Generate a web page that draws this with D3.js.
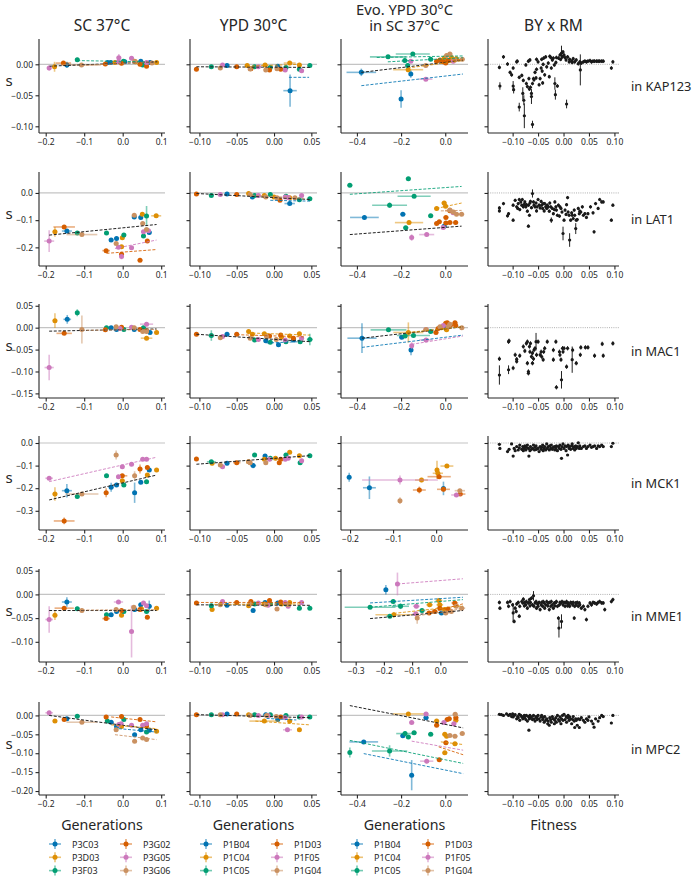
<!DOCTYPE html>
<html><head><meta charset="utf-8">
<script src="https://cdn.jsdelivr.net/npm/d3@7"></script>
<style>
body{margin:0;background:#fff}
svg{display:block}
text{font-family:"Noto Sans",sans-serif;fill:#262626}
</style>
</head><body><svg id="c" width="696" height="876"></svg>
<script>
const colors = ['#0173b2','#de8f05','#029e73','#d55e00','#cc78bc','#ca9161'];
const colTitles = [["SC 37°C"],["YPD 30°C"],["Evo. YPD 30°C","in SC 37°C"],["BY x RM"]];
const rowLabels = ["in KAP123","in LAT1","in MAC1","in MCK1","in MME1","in MPC2"];
const xLabels = ["Generations","Generations","Generations","Fitness"];
const legendSC = ["P3C03","P3D03","P3F03","P3G02","P3G05","P3G06"];
const legendP1 = ["P1B04","P1C04","P1C05","P1D03","P1F05","P1G04"];

// axis domains and ticks
const xDomSC = [-0.2174, 0.1099], xTicksSC = [-0.2,-0.1,0.0,0.1];
const xDomYPD = [-0.1126, 0.0576], xTicksYPD = [-0.10,-0.05,0.00,0.05];
const xDomBY = [-0.1484, 0.109], xTicksBY = [-0.10,-0.05,0.00,0.05,0.10];
const xDomEvo = [[-0.472,0.103],[-0.472,0.103],[-0.472,0.103],[-0.221,0.074],[-0.352,0.098],[-0.472,0.103]];
const xTicksEvo = [[-0.4,-0.2,0.0],[-0.4,-0.2,0.0],[-0.4,-0.2,0.0],[-0.2,-0.1,0.0],[-0.3,-0.2,-0.1,0.0],[-0.4,-0.2,0.0]];
const yDom = [[-0.1108,0.0408],[-0.2685,0.077],[-0.1605,0.054],[-0.385,0.031],[-0.1426,0.0536],[-0.2105,0.0355]];
const yTicks = [[-0.10,-0.05,0.00],[-0.2,-0.1,0.0],[-0.15,-0.10,-0.05,0.00,0.05],[-0.3,-0.2,-0.1,0.0],[-0.10,-0.05,0.00,0.05],[-0.20,-0.15,-0.10,-0.05,0.00]];
const yFmt = [".2f",".1f",".2f",".1f",".2f",".2f"];

// ---- KAP123 ---- [series, x, y, xerr, yerr]
const kapSC = [[4,-0.191,-0.006,0.006,0.004],[1,-0.177,-0.004,0.005,0.008],[3,-0.154,0.002,0.02,0.003],[0,-0.145,-0.001,0.01,0.005],[2,-0.118,0.0075],[5,-0.107,-0.001,0.05,0.003],[3,-0.045,0.0005],[0,-0.039,0.003],[0,-0.031,0.003],[1,-0.02,0.003],[4,-0.01,0.0107,0.006,0.006],[4,-0.011,0.004],[3,-0.003,0.0015],[2,0.002,0.005],[0,0.0055,0.004],[4,0.023,0.0097],[5,0.031,0.005,0.006,0.003],[1,0.033,0.004],[3,0.045,0.0],[0,0.047,0.005],[2,0.052,-0.001],[3,0.062,-0.003],[4,0.062,0.003,0.006,0.003],[1,0.058,0.001],[0,0.071,0.003],[5,0.076,0.002],[1,0.088,0.003,0.005,0.003]];
const kapSCfit = [['k',-0.19,0.09,-0.003,0.004],[5,-0.107,0.076,-0.002,0.004],[2,-0.118,0.062,0.006,0.004]];
const kapYPD = [[3,-0.104,-0.008],[2,-0.084,-0.004],[4,-0.069,-0.001],[5,-0.072,-0.006],[0,-0.063,-0.002],[3,-0.050,-0.004],[1,-0.036,-0.002],[5,-0.032,-0.0075],[3,-0.031,-0.007],[2,-0.026,-0.004],[4,-0.021,-0.004],[1,-0.012,-0.001],[5,-0.011,-0.009],[3,-0.006,-0.009],[2,-0.005,-0.005],[0,0.005,-0.003],[5,0.004,-0.007],[3,0.009,-0.008],[4,0.015,-0.009],[2,0.016,-0.005],[1,0.021,0.002,0.008,0.003],[1,0.034,-0.001],[4,0.037,-0.0105],[2,0.034,-0.008],[2,0.048,-0.002],[0,0.0215,-0.0425,0.009,0.026]];
const kapYPDfit = [['k',-0.104,0.048,-0.004,-0.005],[0,0.02,0.047,-0.021,-0.021],[1,-0.036,0.034,-0.003,0.0]];
const kapEvo = [[0,-0.38,-0.013,0.067,0.006],[2,-0.259,0.012,0.082,0.003],[2,-0.147,0.0166,0.077,0.003],[2,-0.183,0.006],[2,-0.066,0.008],[2,-0.17,-0.002,0.01,0.004],[4,-0.156,0.005],[1,-0.168,-0.0087,0.068,0.004],[0,-0.156,-0.0157,0.006,0.006],[0,-0.2,-0.056,0.006,0.014],[4,-0.088,-0.024,0.03,0.003],[5,-0.088,-0.002],[3,-0.039,0.005],[3,-0.024,0.007],[5,0.006,0.014],[1,-0.004,0.010],[3,0.002,0.002],[3,0.013,0.006],[5,0.021,0.0165],[1,0.028,0.011],[4,0.036,0.005],[5,0.044,0.007],[5,0.077,0.008],[3,-0.01,0.004],[1,0.05,0.009]];
const kapEvoFit = [['k',-0.38,0.08,-0.013,0.0065],[0,-0.38,0.08,-0.0345,-0.0157],[2,-0.31,0.08,0.011,0.0135],[2,-0.26,0.08,0.004,0.0105],[3,-0.05,0.08,0.004,0.008],[1,-0.17,0.08,-0.006,0.006]];
// [x, y, yerr]
const kapBY = [[-0.126,-0.005],[-0.118,0.012],[-0.125,-0.035,0.006],[-0.110,0.0005],[-0.105,-0.013],[-0.102,-0.017],[-0.099,-0.035,0.008],[-0.098,-0.041,0.006],[-0.099,-0.006],[-0.092,0.004],[-0.091,0.005],[-0.087,-0.021],[-0.087,-0.069,0.007],[-0.082,-0.018],[-0.079,-0.026],[-0.080,-0.047,0.01],[-0.078,-0.058,0.008],[-0.077,-0.083,0.02],[-0.074,-0.001],[-0.073,-0.031],[-0.071,-0.036],[-0.069,0.005],[-0.068,-0.023],[-0.067,-0.040],[-0.066,0.007],[-0.065,-0.037],[-0.063,-0.047],[-0.063,-0.052,0.012],[-0.061,-0.097,0.006],[-0.061,-0.031],[-0.059,-0.023],[-0.058,-0.025],[-0.056,-0.013],[-0.054,-0.022],[-0.053,0.008],[-0.053,-0.008],[-0.050,0.004],[-0.048,-0.033],[-0.046,-0.023],[-0.044,-0.006],[-0.043,0.008],[-0.042,-0.011],[-0.041,-0.030],[-0.040,0],[-0.039,0.010],[-0.037,-0.017],[-0.035,0.012],[-0.033,-0.004],[-0.030,0.002],[-0.028,-0.020],[-0.027,0.013],[-0.025,0.011],[-0.024,-0.006],[-0.022,0.007],[-0.020,0.010],[-0.018,-0.001],[-0.017,-0.031,0.01],[-0.016,-0.049,0.008],[-0.015,0.003],[-0.014,0.011],[-0.012,-0.035],[-0.010,0.010],[-0.007,0.015],[-0.006,0.008],[-0.004,0.018,0.012],[-0.002,0.012],[-0.001,0.020],[0.001,0.015],[0.003,0.011],[0.005,0.007],[0.006,-0.064,0.007],[0.008,0.012],[0.011,0.004],[0.012,0.008],[0.016,0.005],[0.017,0.003],[0.019,0.009],[0.022,0.004],[0.025,0.007],[0.029,0.001],[0.032,0.004],[0.033,-0.009,0.025],[0.035,0.002],[0.039,0.004],[0.042,0.005],[0.045,0.004],[0.048,0.005],[0.052,0.006],[0.055,0.004],[0.058,0.005],[0.061,0.005],[0.065,0.005],[0.068,0.005],[0.071,0.005],[0.075,0.005],[0.078,0.005],[0.094,-0.006],[0.097,0.004]];

// ---- LAT1 ----
const latSC = [[4,-0.191,-0.177,0.013,0.04],[1,-0.176,-0.143,0.006,0.018],[3,-0.152,-0.125,0.028,0.006],[0,-0.145,-0.140,0.013,0.006],[2,-0.118,-0.147],[5,-0.106,-0.153,0.04,0.006],[2,-0.042,-0.147],[0,-0.030,-0.173],[0,-0.016,-0.167],[5,-0.017,-0.186],[4,-0.011,-0.200],[1,-0.001,-0.165],[2,0.003,-0.155],[1,-0.003,-0.198],[3,-0.043,-0.212,0.01,0.006],[3,-0.003,-0.225],[4,-0.003,-0.234,0.006,0.01],[4,0.023,-0.201],[3,0.045,-0.247],[0,0.030,-0.088],[5,0.030,-0.082],[0,0.047,-0.090],[1,0.051,-0.078],[2,0.062,-0.085,0.006,0.037],[1,0.087,-0.084,0.013,0.006],[5,0.052,-0.112],[5,0.062,-0.134],[4,0.054,-0.143],[2,0.054,-0.158],[4,0.067,-0.139],[0,0.069,-0.145],[3,0.064,-0.177]];
const latSCfit = [['k',-0.191,0.088,-0.155,-0.116],[4,-0.02,0.088,-0.204,-0.173],[3,-0.042,0.088,-0.222,-0.208]];
const latYPD = [[3,-0.104,-0.004],[2,-0.084,-0.009],[4,-0.072,-0.006],[0,-0.063,-0.004],[3,-0.050,-0.006],[1,-0.034,-0.002],[5,-0.032,-0.006],[0,-0.029,-0.015],[2,-0.026,-0.009],[4,-0.021,-0.009],[1,-0.013,-0.009],[5,-0.011,-0.015],[2,-0.005,-0.006],[1,0.0,-0.015],[3,0.008,-0.027],[5,0.004,-0.018],[4,0.015,-0.015],[2,0.016,-0.012],[0,0.021,-0.039,0.007,0.004],[1,0.021,-0.018],[4,0.019,-0.017],[5,0.028,-0.018],[4,0.037,-0.009],[2,0.034,-0.025],[2,0.048,-0.021]];
const latYPDfit = [['k',-0.104,0.048,-0.002,-0.024],[0,-0.005,0.048,-0.027,-0.03],[5,-0.03,0.04,-0.008,-0.02]];
const latEvo = [[2,-0.432,0.028],[2,-0.167,0.0525],[2,-0.141,-0.012,0.075,0.006],[2,-0.252,-0.045,0.079,0.01],[0,-0.366,-0.090,0.065,0.006],[0,-0.192,-0.078],[2,-0.066,-0.084],[2,-0.179,-0.128],[1,-0.164,-0.109,0.064,0.008],[4,-0.152,-0.164,0.006,0.012],[4,-0.084,-0.153,0.034,0.006],[1,-0.039,-0.057],[1,-0.005,-0.037],[1,0.0015,-0.049],[3,0.021,-0.065,0.022,0.006],[5,0.021,-0.063],[5,0.036,-0.070],[4,0.036,-0.073],[5,0.074,-0.078],[5,0.051,-0.078],[3,0.003,-0.090],[3,-0.039,-0.112],[3,-0.027,-0.106],[3,0.003,-0.110],[3,0.021,-0.109],[3,0.047,-0.109],[0,-0.005,-0.122],[4,-0.009,-0.127]];
const latEvoFit = [[2,-0.432,0.074,-0.005,0.024],['k',-0.432,0.074,-0.153,-0.122],[1,-0.04,0.074,-0.057,-0.037],[5,-0.02,0.074,-0.066,-0.064]];
const latBY = [[-0.126,-0.055],[-0.126,-0.066],[-0.118,-0.039],[-0.110,-0.084],[-0.108,-0.076],[-0.099,-0.100],[-0.099,-0.045],[-0.095,-0.027],[-0.092,-0.051],[-0.090,-0.057],[-0.089,-0.039],[-0.087,-0.024],[-0.086,-0.061],[-0.084,-0.033],[-0.082,-0.045],[-0.081,-0.024],[-0.079,-0.051],[-0.077,-0.042],[-0.076,-0.033],[-0.074,-0.051],[-0.073,-0.043],[-0.071,-0.067],[-0.069,-0.122],[-0.069,-0.045],[-0.067,-0.082],[-0.066,-0.037],[-0.065,-0.031],[-0.063,-0.054],[-0.061,-0.002,0.015],[-0.059,-0.033],[-0.058,-0.045],[-0.056,-0.051],[-0.054,-0.037],[-0.053,-0.066],[-0.052,-0.051],[-0.050,-0.024],[-0.048,-0.045],[-0.046,-0.055],[-0.044,-0.031],[-0.043,-0.045],[-0.041,-0.057],[-0.040,-0.039],[-0.038,-0.066],[-0.037,-0.039],[-0.035,-0.051],[-0.033,-0.057],[-0.032,-0.045],[-0.030,-0.051],[-0.028,-0.067],[-0.027,-0.037],[-0.025,-0.051],[-0.024,-0.100,0.01],[-0.022,-0.057],[-0.020,-0.076],[-0.018,-0.061],[-0.017,-0.033],[-0.015,-0.051],[-0.014,-0.063],[-0.012,-0.082],[-0.010,-0.045],[-0.008,-0.085],[-0.007,-0.051],[-0.005,-0.057],[-0.003,-0.070],[-0.001,-0.149,0.025],[0.001,-0.100],[0.003,-0.063],[0.005,-0.079],[0.006,-0.043],[0.008,-0.017],[0.009,-0.070],[0.011,-0.082],[0.012,-0.173,0.025],[0.014,-0.100],[0.016,-0.073],[0.017,-0.082],[0.019,-0.094],[0.021,-0.063],[0.022,-0.082],[0.024,-0.131,0.02],[0.025,-0.100],[0.027,-0.098],[0.029,-0.057],[0.031,-0.076],[0.032,-0.067],[0.034,-0.070],[0.037,-0.051],[0.039,-0.082],[0.042,-0.076],[0.045,-0.090],[0.048,-0.076],[0.053,-0.051],[0.058,-0.073],[0.060,-0.143],[0.063,-0.039],[0.068,-0.057],[0.071,-0.024],[0.075,-0.033],[0.078,-0.033],[0.094,-0.100],[0.097,-0.045]];

// ---- MAC1 ----
const macSC = [[1,-0.176,0.016,0.006,0.017],[0,-0.144,0.019,0.01,0.01],[2,-0.118,0.034,0.004,0.008],[3,-0.152,-0.013,0.02,0.004],[5,-0.106,-0.004,0.006,0.032],[4,-0.191,-0.091,0.012,0.029],[3,-0.045,-0.005],[2,-0.042,0.0],[0,-0.030,0.0],[0,-0.016,-0.004],[5,-0.017,0.002],[3,-0.003,0.001],[4,-0.007,-0.002],[2,0.003,-0.004],[0,0.030,-0.004],[4,0.023,0.001],[5,0.030,0.0],[3,0.045,-0.004],[2,0.054,0.0],[5,0.052,-0.009],[4,0.062,0.008,0.017,0.004],[5,0.062,-0.009],[0,0.071,-0.011],[1,0.062,-0.024,0.015,0.004],[1,0.088,-0.011],[3,0.062,-0.007]];
const macSCfit = [['k',-0.191,0.088,-0.008,-0.003],[5,-0.106,0.088,-0.006,-0.004]];
const macYPD = [[3,-0.104,-0.015],[2,-0.084,-0.018,0.004,0.012],[5,-0.072,-0.023],[4,-0.069,-0.020],[0,-0.063,-0.015],[3,-0.050,-0.015],[1,-0.034,-0.009],[5,-0.032,-0.024],[1,-0.029,-0.015],[2,-0.026,-0.028],[4,-0.021,-0.027],[1,-0.013,-0.014],[0,-0.011,-0.030],[5,-0.010,-0.020],[2,-0.005,-0.033],[3,-0.006,-0.019],[5,0.003,-0.027],[0,0.006,-0.039],[3,0.009,-0.017],[1,0.010,-0.022],[4,0.015,-0.028],[2,0.016,-0.032],[1,0.021,-0.019],[3,0.026,-0.024],[0,0.026,-0.028],[1,0.034,-0.014],[2,0.035,-0.032],[4,0.037,-0.024],[2,0.048,-0.027,0.004,0.013]];
const macYPDfit = [['k',-0.104,0.048,-0.015,-0.032],[1,-0.035,0.048,-0.012,-0.017],[0,-0.01,0.035,-0.035,-0.032],[3,-0.05,0.04,-0.016,-0.021]];
const macEvo = [[0,-0.377,-0.024,0.066,0.034],[2,-0.257,-0.005,0.081,0.004],[1,-0.167,-0.011,0.068,0.023],[2,-0.182,-0.019],[0,-0.197,-0.022],[2,-0.144,-0.018,0.075,0.004],[2,-0.066,-0.009],[4,-0.152,-0.041,0.006,0.008],[0,-0.155,-0.051,0.006,0.012],[4,-0.087,-0.028,0.03,0.004],[4,-0.087,-0.004],[5,-0.087,-0.004],[3,-0.042,-0.011],[3,-0.032,-0.002],[5,-0.024,0.002],[1,-0.017,0.0],[3,0.002,0.010],[3,0.009,0.011],[5,0.014,0.002],[4,-0.009,0.005],[3,0.024,0.006],[5,0.021,0.008],[3,0.044,0.011],[3,0.047,0.005],[5,0.075,0.0],[4,0.014,0.002],[0,0.003,-0.002],[1,0.006,-0.005]];
const macEvoFit = [['k',-0.377,0.08,-0.024,0.002],[0,-0.377,0.08,-0.045,-0.017],[4,-0.152,0.08,-0.038,-0.019],[1,-0.17,0.08,-0.011,0.002]];
const macBY = [[-0.126,-0.071],[-0.126,-0.108,0.022],[-0.108,-0.032],[-0.108,-0.096,0.01],[-0.107,-0.030],[-0.099,-0.092],[-0.095,-0.062],[-0.092,-0.077],[-0.092,-0.072],[-0.086,-0.064],[-0.079,-0.043],[-0.076,-0.053],[-0.073,-0.036],[-0.071,-0.032],[-0.071,-0.081],[-0.069,-0.100],[-0.069,-0.104],[-0.067,-0.043],[-0.066,-0.055],[-0.065,-0.036],[-0.063,-0.066],[-0.061,-0.081],[-0.061,-0.058],[-0.059,-0.071],[-0.058,-0.051],[-0.056,-0.047],[-0.054,-0.032,0.02],[-0.053,-0.062],[-0.050,-0.032],[-0.046,-0.062],[-0.044,-0.055],[-0.043,-0.066],[-0.040,-0.073],[-0.039,-0.055],[-0.037,-0.047],[-0.032,-0.032],[-0.020,-0.051],[-0.020,-0.073],[-0.015,-0.032],[-0.014,-0.136],[-0.008,-0.055],[-0.007,-0.062],[-0.005,-0.073],[-0.004,-0.119,0.02],[-0.002,-0.047],[-0.001,-0.055],[0.001,-0.047],[0.006,-0.089],[0.008,-0.047],[0.017,-0.073,0.03],[0.018,-0.051],[0.025,-0.081],[0.033,-0.062],[0.034,-0.045],[0.043,-0.045],[0.048,-0.045],[0.061,-0.064],[0.076,-0.037],[0.078,-0.064],[0.097,-0.036]];

// ---- MCK1 ----
const mckSC = [[4,-0.191,-0.156,0.01,0.008],[1,-0.176,-0.226,0.006,0.03],[0,-0.145,-0.211,0.013,0.03],[2,-0.118,-0.237],[5,-0.106,-0.226,0.043,0.008],[3,-0.152,-0.345,0.027,0.015],[2,-0.042,-0.145],[3,-0.043,-0.220,0.006,0.02],[0,-0.030,-0.196,0.006,0.02],[0,-0.016,-0.186],[5,-0.017,-0.053,0.006,0.02],[4,-0.011,-0.149],[1,-0.001,-0.167],[3,-0.001,-0.145,0.013,0.008],[2,0.003,-0.186],[4,-0.001,-0.105],[4,0.023,-0.094],[0,0.031,-0.220,0.006,0.045],[5,0.031,-0.145,0.006,0.02],[3,0.045,-0.115,0.006,0.02],[0,0.047,-0.174],[4,0.052,-0.072],[4,0.062,-0.072],[3,0.064,-0.108],[1,0.064,-0.142],[2,0.062,-0.171],[0,0.069,-0.119],[1,0.088,-0.119]];
const mckSCfit = [[4,-0.191,0.088,-0.171,-0.063],['k',-0.191,0.088,-0.252,-0.142]];
const mckYPD = [[3,-0.104,-0.071],[2,-0.084,-0.083,0.006,0.006],[1,-0.083,-0.090],[5,-0.072,-0.097],[4,-0.069,-0.105],[0,-0.063,-0.090],[3,-0.050,-0.087,0.005,0.006],[1,-0.034,-0.083],[5,-0.032,-0.087],[5,-0.034,-0.083],[0,-0.028,-0.100,0.004,0.012],[2,-0.026,-0.053],[1,-0.013,-0.072],[0,-0.012,-0.058],[5,-0.011,-0.087],[2,-0.005,-0.068],[4,-0.006,-0.072],[3,0.007,-0.087],[3,0.009,-0.072],[1,0.002,-0.068],[4,0.015,-0.072],[2,0.016,-0.053],[1,0.021,-0.041],[4,0.019,-0.068],[1,0.034,-0.056],[2,0.035,-0.087],[4,0.037,-0.078],[2,0.048,-0.056]];
const mckYPDfit = [['k',-0.104,0.048,-0.094,-0.056]];
const mckEvo = [[0,-0.202,-0.152,0.004,0.02],[0,-0.155,-0.198,0.015,0.05],[4,-0.084,-0.164,0.088,0.02],[5,-0.084,-0.255,0.004,0.015],[1,-0.034,-0.164,0.015,0.01],[1,0.002,-0.119,0.004,0.04],[1,0.004,-0.134],[1,0.025,-0.102,0.015,0.008],[3,0.007,-0.149,0.027,0.008],[3,-0.039,-0.208,0.015,0.015],[3,0.017,-0.205,0.015,0.01],[0,0.017,-0.201,0.004,0.03],[5,0.055,-0.211],[4,0.047,-0.230],[3,0.056,-0.226]];
const mckEvoFit = [];
const mckBY = [[-0.126,-0.006],[-0.125,-0.024],[-0.110,-0.038],[-0.107,-0.028],[-0.102,-0.004],[-0.099,-0.058],[-0.097,-0.024],[-0.095,-0.034],[-0.092,-0.016],[-0.089,-0.031],[-0.087,-0.021],[-0.086,-0.009],[-0.082,-0.028],[-0.080,-0.016],[-0.079,-0.034],[-0.077,-0.024],[-0.076,-0.013],[-0.074,-0.031],[-0.073,-0.019],[-0.071,-0.009],[-0.069,-0.024],[-0.068,-0.058],[-0.066,-0.034],[-0.065,-0.016],[-0.063,-0.028],[-0.061,-0.024],[-0.059,-0.009],[-0.057,-0.031],[-0.056,-0.019],[-0.054,-0.013],[-0.053,-0.028],[-0.050,-0.024],[-0.048,-0.038],[-0.046,-0.016],[-0.044,-0.028],[-0.043,-0.019],[-0.041,-0.009],[-0.040,-0.034],[-0.038,-0.024],[-0.037,-0.016],[-0.035,-0.031],[-0.033,-0.004],[-0.032,-0.024],[-0.030,-0.016],[-0.028,-0.031],[-0.027,-0.013],[-0.025,-0.024],[-0.024,-0.009],[-0.022,-0.028],[-0.020,-0.019],[-0.018,-0.016],[-0.017,-0.031],[-0.015,-0.024],[-0.014,-0.013],[-0.012,-0.034],[-0.010,-0.016],[-0.008,-0.024],[-0.007,-0.009],[-0.005,-0.028],[-0.004,-0.068],[-0.003,-0.016],[-0.001,-0.004],[0.001,-0.024],[0.003,-0.013],[0.005,-0.034],[0.006,-0.016],[0.008,-0.053],[0.009,-0.009],[0.011,-0.024],[0.012,-0.016],[0.014,-0.028],[0.016,-0.013],[0.017,-0.004],[0.019,-0.024],[0.021,-0.016],[0.022,-0.031],[0.024,-0.013],[0.025,-0.024],[0.027,-0.016],[0.029,0.001],[0.031,-0.024],[0.032,-0.013],[0.035,-0.024],[0.039,-0.016],[0.042,-0.013],[0.045,-0.024],[0.048,-0.016],[0.052,-0.009],[0.055,-0.019],[0.058,-0.016],[0.061,-0.013],[0.065,-0.024],[0.068,-0.013],[0.071,-0.016],[0.075,-0.009],[0.078,-0.016],[0.094,-0.016],[0.097,-0.001]];

// ---- MME1 ----
const mmeSC = [[4,-0.191,-0.053,0.01,0.028],[1,-0.176,-0.044,0.006,0.01],[0,-0.145,-0.016,0.013,0.01],[3,-0.152,-0.029,0.025,0.004],[2,-0.118,-0.030],[5,-0.106,-0.034],[3,-0.043,-0.051,0.01,0.004],[2,-0.042,-0.043],[0,-0.030,-0.043],[0,-0.016,-0.036],[5,-0.017,-0.032],[4,-0.011,-0.016,0.012,0.004],[1,-0.003,-0.044],[3,-0.003,-0.034],[2,0.003,-0.036],[4,0.023,-0.078,0.006,0.055],[0,0.031,-0.032],[5,0.029,-0.027],[3,0.045,-0.032],[0,0.047,-0.022],[1,0.049,-0.031],[4,0.054,-0.018],[4,0.062,-0.024],[3,0.064,-0.048],[2,0.062,-0.036],[0,0.069,-0.025,0.006,0.012],[1,0.088,-0.029]];
const mmeSCfit = [['k',-0.191,0.088,-0.034,-0.034],[5,-0.106,0.088,-0.033,-0.032]];
const mmeYPD = [[3,-0.104,-0.018],[2,-0.084,-0.024],[1,-0.083,-0.032],[4,-0.069,-0.015],[5,-0.072,-0.022],[0,-0.063,-0.023],[3,-0.050,-0.017],[1,-0.034,-0.024],[3,-0.031,-0.015],[5,-0.032,-0.020],[0,-0.028,-0.034],[2,-0.026,-0.020],[4,-0.021,-0.018],[0,-0.012,-0.017],[1,-0.013,-0.020],[5,-0.011,-0.022],[4,-0.008,-0.023],[3,-0.006,-0.013],[2,-0.005,-0.020],[0,0.005,-0.018],[5,0.004,-0.031],[3,0.009,-0.016],[1,0.010,-0.020],[4,0.015,-0.017],[2,0.016,-0.020],[4,0.019,-0.025],[1,0.021,-0.017],[5,0.019,-0.022],[2,0.034,-0.029],[4,0.037,-0.017],[2,0.048,-0.029]];
const mmeYPDfit = [['k',-0.104,0.048,-0.022,-0.023],[3,-0.104,0.04,-0.017,-0.017],[1,-0.08,0.035,-0.021,-0.02]];
const mmeEvo = [[0,-0.193,0.010,0.006,0.01],[4,-0.152,0.022,0.006,0.024],[2,-0.249,-0.027,0.09,0.004],[2,-0.167,-0.015],[2,-0.141,-0.025,0.03,0.006],[2,-0.179,-0.046],[1,-0.165,-0.043,0.065,0.006],[2,-0.065,-0.034],[4,-0.085,-0.025],[4,-0.087,-0.041],[5,-0.082,-0.050,0.006,0.012],[1,-0.038,-0.022],[3,-0.040,-0.039],[3,-0.020,-0.036],[1,-0.005,-0.013],[1,-0.002,-0.022],[0,0.004,-0.039],[3,-0.002,-0.029],[5,0.019,-0.039],[1,0.015,-0.032],[3,0.027,-0.031],[5,0.039,-0.036],[3,0.051,-0.018],[5,0.056,-0.025],[5,0.076,-0.029]];
const mmeEvoFit = [[4,-0.152,0.08,0.022,0.033],[0,-0.249,0.08,-0.018,-0.006],[2,-0.249,0.08,-0.027,-0.011],['k',-0.249,0.08,-0.051,-0.034],[1,-0.165,0.08,-0.04,-0.024],[3,-0.04,0.08,-0.038,-0.02],[5,-0.08,0.08,-0.045,-0.03]];
const mmeBY = [[-0.126,-0.017],[-0.125,-0.029],[-0.110,-0.017],[-0.108,-0.025],[-0.105,-0.015],[-0.100,-0.022],[-0.099,-0.039,0.02],[-0.097,-0.057],[-0.095,-0.029],[-0.093,-0.036],[-0.092,-0.020],[-0.089,-0.017],[-0.087,-0.046],[-0.086,-0.025],[-0.082,-0.015],[-0.080,-0.018],[-0.079,-0.010],[-0.077,-0.024],[-0.076,-0.017],[-0.074,-0.022],[-0.073,-0.015],[-0.071,-0.029],[-0.069,-0.018],[-0.067,-0.011],[-0.066,-0.024],[-0.065,-0.017],[-0.063,-0.008],[-0.061,-0.022],[-0.059,-0.003,0.01],[-0.058,-0.025],[-0.056,-0.018],[-0.054,-0.015],[-0.053,-0.029],[-0.051,-0.020],[-0.050,-0.025],[-0.048,-0.017],[-0.046,-0.032],[-0.044,-0.022],[-0.043,-0.017],[-0.041,-0.025],[-0.040,-0.015],[-0.038,-0.018],[-0.037,-0.029],[-0.035,-0.022],[-0.033,-0.015],[-0.031,-0.024],[-0.030,-0.018],[-0.028,-0.032],[-0.027,-0.017],[-0.025,-0.025],[-0.024,-0.015],[-0.022,-0.022],[-0.020,-0.029],[-0.018,-0.018],[-0.017,-0.024],[-0.015,-0.017],[-0.014,-0.015],[-0.012,-0.025],[-0.010,-0.050],[-0.009,-0.071,0.02],[-0.008,-0.022],[-0.007,-0.017],[-0.005,-0.018],[-0.004,-0.057,0.015],[-0.003,-0.015],[-0.001,-0.022],[0.001,-0.017],[0.003,-0.025],[0.005,-0.018],[0.006,-0.015],[0.008,-0.024],[0.009,-0.018],[0.011,-0.022],[0.012,-0.025],[0.014,-0.017],[0.016,-0.018],[0.018,-0.022],[0.019,-0.017],[0.021,-0.050],[0.022,-0.025],[0.024,-0.018],[0.025,-0.022],[0.027,-0.017],[0.029,-0.025],[0.031,-0.018],[0.032,-0.022],[0.035,-0.029],[0.039,-0.025],[0.042,-0.032],[0.045,-0.053],[0.048,-0.025],[0.052,-0.018],[0.055,-0.022],[0.058,-0.017],[0.061,-0.018],[0.065,-0.020],[0.068,-0.017],[0.071,-0.015],[0.075,-0.018],[0.078,-0.018],[0.081,-0.032],[0.094,-0.015],[0.097,-0.011]];

// ---- MPC2 ----
const mpcSC = [[4,-0.191,0.007,0.01,0.003],[1,-0.176,-0.015],[3,-0.152,-0.011],[0,-0.145,-0.009],[2,-0.118,-0.002],[5,-0.106,-0.018,0.04,0.004],[3,-0.043,-0.004],[2,-0.040,-0.015],[0,-0.030,-0.018],[0,-0.016,-0.029],[5,-0.017,-0.038],[3,-0.003,-0.003],[4,-0.010,-0.024],[1,-0.003,-0.029],[4,-0.004,-0.022],[2,0.003,-0.011],[0,0.031,-0.051],[5,0.031,-0.068],[4,0.023,-0.026],[3,0.045,-0.011],[0,0.047,-0.038],[4,0.052,-0.026],[5,0.052,-0.060],[2,0.062,-0.044],[5,0.062,-0.064],[4,0.062,-0.022],[3,0.062,-0.028],[0,0.069,-0.039],[1,0.088,-0.042]];
const mpcSCfit = [['k',-0.191,0.088,0.0,-0.038],[0,-0.01,0.088,-0.035,-0.044],[5,-0.02,0.088,-0.051,-0.064],[3,-0.03,0.088,-0.004,-0.017],[1,-0.03,0.088,-0.025,-0.035]];
const mpcYPD = [[3,-0.104,0.002],[2,-0.084,0.002],[5,-0.072,0.002],[4,-0.069,0.002],[0,-0.063,0.004],[3,-0.050,0.004],[1,-0.034,0.002],[5,-0.032,0.0],[2,-0.026,0.002],[4,-0.021,0.0],[1,-0.013,-0.015,0.02,0.004],[0,-0.011,0.002],[5,-0.010,0.0],[4,-0.008,0.0],[2,-0.005,0.002],[5,0.003,-0.003],[0,0.005,-0.011],[3,0.009,-0.004],[2,0.016,0.0],[4,0.015,-0.006],[1,0.021,-0.015],[4,0.018,-0.038,0.006,0.003],[1,0.034,-0.038],[2,0.034,-0.004],[4,0.037,-0.004],[2,0.048,-0.004]];
const mpcYPDfit = [['k',-0.104,0.048,0.002,-0.006],[1,-0.025,0.048,-0.015,-0.025],[0,-0.01,0.03,-0.008,-0.012]];
const mpcEvo = [[4,-0.087,0.004],[1,-0.167,0.004,0.07,0.003],[0,-0.087,-0.006],[4,-0.152,-0.019],[1,-0.039,-0.015],[3,-0.039,-0.026],[3,0.009,-0.011],[3,0.018,-0.009],[4,-0.006,-0.019],[4,0.039,-0.022],[3,0.048,-0.006],[5,0.045,0.003],[1,0.048,-0.013],[0,-0.192,-0.054],[2,-0.182,-0.048,0.04,0.006],[2,-0.167,-0.057],[2,-0.141,-0.046],[2,-0.066,-0.050],[1,-0.002,-0.050],[1,0.006,-0.055],[3,0.003,-0.072],[5,0.021,-0.053],[5,0.044,-0.055],[5,0.077,-0.048],[1,0.044,-0.075],[0,-0.369,-0.070,0.065,0.004],[2,-0.432,-0.098,0.004,0.013],[2,-0.252,-0.094,0.08,0.015],[1,-0.002,-0.099],[3,-0.027,-0.117],[4,-0.084,-0.121,0.03,0.006],[0,-0.152,-0.158,0.004,0.04]];
const mpcEvoFit = [['k',-0.432,0.081,0.026,-0.033],[0,-0.369,0.081,-0.101,-0.154],[2,-0.432,0.081,-0.066,-0.127],[4,-0.152,0.081,-0.068,-0.092],[3,-0.03,0.081,-0.083,-0.104],[1,-0.02,0.081,-0.07,-0.077]];
const mpcBY = [[-0.126,0.003],[-0.122,0.002],[-0.118,0],[-0.112,0.004],[-0.108,0],[-0.105,0.003],[-0.102,-0.003],[-0.100,0.004],[-0.099,-0.004],[-0.097,0],[-0.095,0.002],[-0.092,-0.009],[-0.090,-0.003],[-0.089,-0.006],[-0.087,0.003],[-0.086,-0.013],[-0.084,0],[-0.082,-0.004],[-0.080,-0.009],[-0.079,-0.003],[-0.077,0],[-0.076,-0.006],[-0.074,-0.011],[-0.073,0],[-0.071,-0.015],[-0.069,-0.003],[-0.068,-0.039],[-0.067,-0.009],[-0.066,0],[-0.065,-0.006],[-0.063,-0.004],[-0.061,-0.011],[-0.059,0],[-0.058,-0.009],[-0.056,-0.015],[-0.054,-0.003],[-0.053,-0.006],[-0.052,-0.011],[-0.050,0],[-0.048,-0.009],[-0.046,-0.015],[-0.044,-0.004],[-0.043,0],[-0.041,-0.011],[-0.040,-0.006],[-0.038,-0.018],[-0.037,-0.003],[-0.035,-0.013],[-0.033,-0.009],[-0.031,-0.022],[-0.030,-0.015],[-0.028,-0.026],[-0.027,-0.006],[-0.025,-0.011],[-0.024,-0.018],[-0.022,-0.003],[-0.020,-0.009],[-0.018,-0.022],[-0.017,-0.013],[-0.015,-0.006],[-0.014,-0.018],[-0.012,0],[-0.010,-0.011],[-0.008,-0.015],[-0.007,-0.004],[-0.005,-0.022],[-0.004,-0.009],[-0.002,0],[-0.001,-0.013],[0.001,0.003],[0.003,-0.011],[0.005,-0.003],[0.006,-0.018],[0.008,-0.006],[0.009,0],[0.011,-0.013],[0.012,-0.004],[0.014,-0.009],[0.016,-0.022],[0.018,-0.011],[0.019,-0.003],[0.021,-0.015],[0.022,-0.032],[0.024,-0.009],[0.025,-0.013],[0.027,-0.026],[0.029,-0.009],[0.031,-0.032],[0.032,-0.011],[0.035,-0.006],[0.039,-0.013],[0.042,-0.018],[0.045,-0.009],[0.048,-0.013],[0.050,-0.004],[0.055,-0.015],[0.058,-0.022],[0.060,-0.031],[0.063,-0.009],[0.068,-0.015],[0.071,-0.006],[0.075,0],[0.078,-0.003],[0.094,-0.020],[0.097,0]];

const rowsData = [
  [kapSC,kapSCfit,kapYPD,kapYPDfit,kapEvo,kapEvoFit,kapBY],
  [latSC,latSCfit,latYPD,latYPDfit,latEvo,latEvoFit,latBY],
  [macSC,macSCfit,macYPD,macYPDfit,macEvo,macEvoFit,macBY],
  [mckSC,mckSCfit,mckYPD,mckYPDfit,mckEvo,mckEvoFit,mckBY],
  [mmeSC,mmeSCfit,mmeYPD,mmeYPDfit,mmeEvo,mmeEvoFit,mmeBY],
  [mpcSC,mpcSCfit,mpcYPD,mpcYPDfit,mpcEvo,mpcEvoFit,mpcBY]
];
const defYerr = [0.003,0.006,0.004,0.008,0.004,0.004];
const defYerrBY = [0.003,0.006,0.005,0.004,0.004,0.003];

// ---------- layout ----------
const colX = [[39,165],[190,317],[341,468],[488,619]];
const rowY = [[39,133],[172,266],[304,398],[436,530],[569,662],[702,795]];
const svg = d3.select('#c');
const minus = s => s.replace(/-/g,'\u2212');
const ink = '#262626';

function styleAxis(g){
  g.select('.domain').attr('stroke',ink).attr('stroke-width',1.1);
  g.selectAll('.tick line').attr('stroke',ink).attr('stroke-width',1.1);
  g.selectAll('.tick text').attr('font-size',8.5).attr('fill',ink).attr('font-family','"Noto Sans",sans-serif');
}

function panel(r,c,pts,fits,xDom,xTicks,xFmt){
  const x = d3.scaleLinear().domain(xDom).range(colX[c]);
  const y = d3.scaleLinear().domain(yDom[r]).range([rowY[r][1],rowY[r][0]]);
  const g = svg.append('g');
  const isBY = c===3;
  g.append('line').attr('x1',colX[c][0]).attr('x2',colX[c][1]).attr('y1',y(0)).attr('y2',y(0))
    .attr('stroke', isBY ? '#9a9a9a' : '#c4c4c4').attr('stroke-width', isBY?0.8:1.2)
    .attr('stroke-dasharray', isBY ? '1,1.2' : null);
  if(isBY){
    const e = g.append('g');
    pts.forEach(d=>{
      const ye = d[2]!==undefined ? d[2] : defYerrBY[r];
      e.append('line').attr('x1',x(d[0])).attr('x2',x(d[0])).attr('y1',y(d[1]-ye)).attr('y2',y(d[1]+ye))
        .attr('stroke','#222').attr('stroke-width',1);
      e.append('line').attr('x1',x(d[0]-0.002)).attr('x2',x(d[0]+0.002)).attr('y1',y(d[1])).attr('y2',y(d[1]))
        .attr('stroke','#222').attr('stroke-width',1);
    });
    g.append('g').selectAll('circle').data(pts).join('circle')
      .attr('cx',d=>x(d[0])).attr('cy',d=>y(d[1])).attr('r',1.6).attr('fill','#1a1a1a');
  } else {
    const dx = [0.006,0.003,0.012][c];
    const dy = defYerr[r];
    for(let s=0;s<6;s++){
      const sp = pts.filter(d=>d[0]===s);
      const eg = g.append('g').attr('stroke',colors[s]).attr('stroke-opacity',0.5).attr('stroke-width',1.6);
      sp.forEach(d=>{
        const xe = d[3]!==undefined?d[3]:dx, ye = d[4]!==undefined?d[4]:dy;
        eg.append('line').attr('x1',x(d[1]-xe)).attr('x2',x(d[1]+xe)).attr('y1',y(d[2])).attr('y2',y(d[2]));
        eg.append('line').attr('x1',x(d[1])).attr('x2',x(d[1])).attr('y1',y(d[2]-ye)).attr('y2',y(d[2]+ye));
      });
      g.append('g').selectAll('circle').data(sp).join('circle')
        .attr('cx',d=>x(d[1])).attr('cy',d=>y(d[2])).attr('r',2.5).attr('fill',colors[s]);
    }
    fits.forEach(f=>{
      g.append('line').attr('x1',x(f[1])).attr('x2',x(f[2])).attr('y1',y(f[3])).attr('y2',y(f[4]))
        .attr('stroke', f[0]==='k' ? '#222' : colors[f[0]])
        .attr('stroke-opacity', f[0]==='k'?1:0.85)
        .attr('stroke-width',1).attr('stroke-dasharray','3,1.6');
    });
  }
  const ax = g.append('g').attr('transform',`translate(0,${rowY[r][1]})`)
    .call(d3.axisBottom(x).tickValues(xTicks).tickFormat(v=>minus(d3.format(xFmt)(v))).tickSizeOuter(0).tickSize(3.5).tickPadding(2.5));
  styleAxis(ax);
  const ay = g.append('g').attr('transform',`translate(${colX[c][0]},0)`)
    .call(d3.axisLeft(y).tickValues(yTicks[r]).tickFormat(v=>c===0?minus(d3.format(yFmt[r])(v)):'').tickSizeOuter(0).tickSize(3.5).tickPadding(2.5));
  styleAxis(ay);
  ax.select('.domain').attr('d',`M${colX[c][0]},0H${colX[c][1]}`);
  ay.select('.domain').attr('d',`M0,${rowY[r][1]}V${rowY[r][0]}`);
}

for(let r=0;r<6;r++){
  const d = rowsData[r];
  panel(r,0,d[0],d[1],xDomSC,xTicksSC,'.1f');
  panel(r,1,d[2],d[3],xDomYPD,xTicksYPD,'.2f');
  panel(r,2,d[4],d[5],xDomEvo[r],xTicksEvo[r],'.1f');
  panel(r,3,d[6],[],xDomBY,xTicksBY,'.2f');
  svg.append('text').attr('x',9).attr('y',(rowY[r][0]+rowY[r][1])/2 - 6)
    .attr('text-anchor','middle').attr('dominant-baseline','central').attr('font-size',15).text('s');
  svg.append('text').attr('x',631).attr('y',(rowY[r][0]+rowY[r][1])/2)
    .attr('dominant-baseline','central').attr('font-size',12.8).text(rowLabels[r]);
}
// titles (multi-line as tspans of one text)
colTitles.forEach((t,c)=>{
  const cx = (colX[c][0]+colX[c][1])/2;
  const multi = t.length>1;
  const tt = svg.append('text').attr('x',cx).attr('y', multi ? 14.5 : 31)
    .attr('text-anchor','middle').attr('font-size', multi ? 14.8 : 15.5);
  t.forEach((line,i)=>{ tt.append('tspan').attr('x',cx).attr('dy', i===0?0:16.8).text(line); });
  svg.append('text').attr('x',cx).attr('y',830).attr('text-anchor','middle').attr('font-size',14.2).text(xLabels[c]);
});
// legends
[[legendSC,0],[legendP1,1],[legendP1,2]].forEach(([names,c])=>{
  const x0 = colX[c][0]+16;
  names.forEach((n,i)=>{
    const col = Math.floor(i/3), row = i%3;
    const mx = x0 + col*71, my = 844 + row*13.3;
    const lg = svg.append('g');
    lg.append('line').attr('x1',mx-6).attr('x2',mx+6).attr('y1',my).attr('y2',my).attr('stroke',colors[i]).attr('stroke-opacity',0.55).attr('stroke-width',1.6);
    lg.append('line').attr('x1',mx).attr('x2',mx).attr('y1',my-5).attr('y2',my+5).attr('stroke',colors[i]).attr('stroke-opacity',0.55).attr('stroke-width',1.6);
    lg.append('circle').attr('cx',mx).attr('cy',my).attr('r',2.5).attr('fill',colors[i]);
    lg.append('text').attr('x',mx+17).attr('y',my).attr('dominant-baseline','central').attr('font-size',9).text(n);
  });
});
</script>
</body></html>
